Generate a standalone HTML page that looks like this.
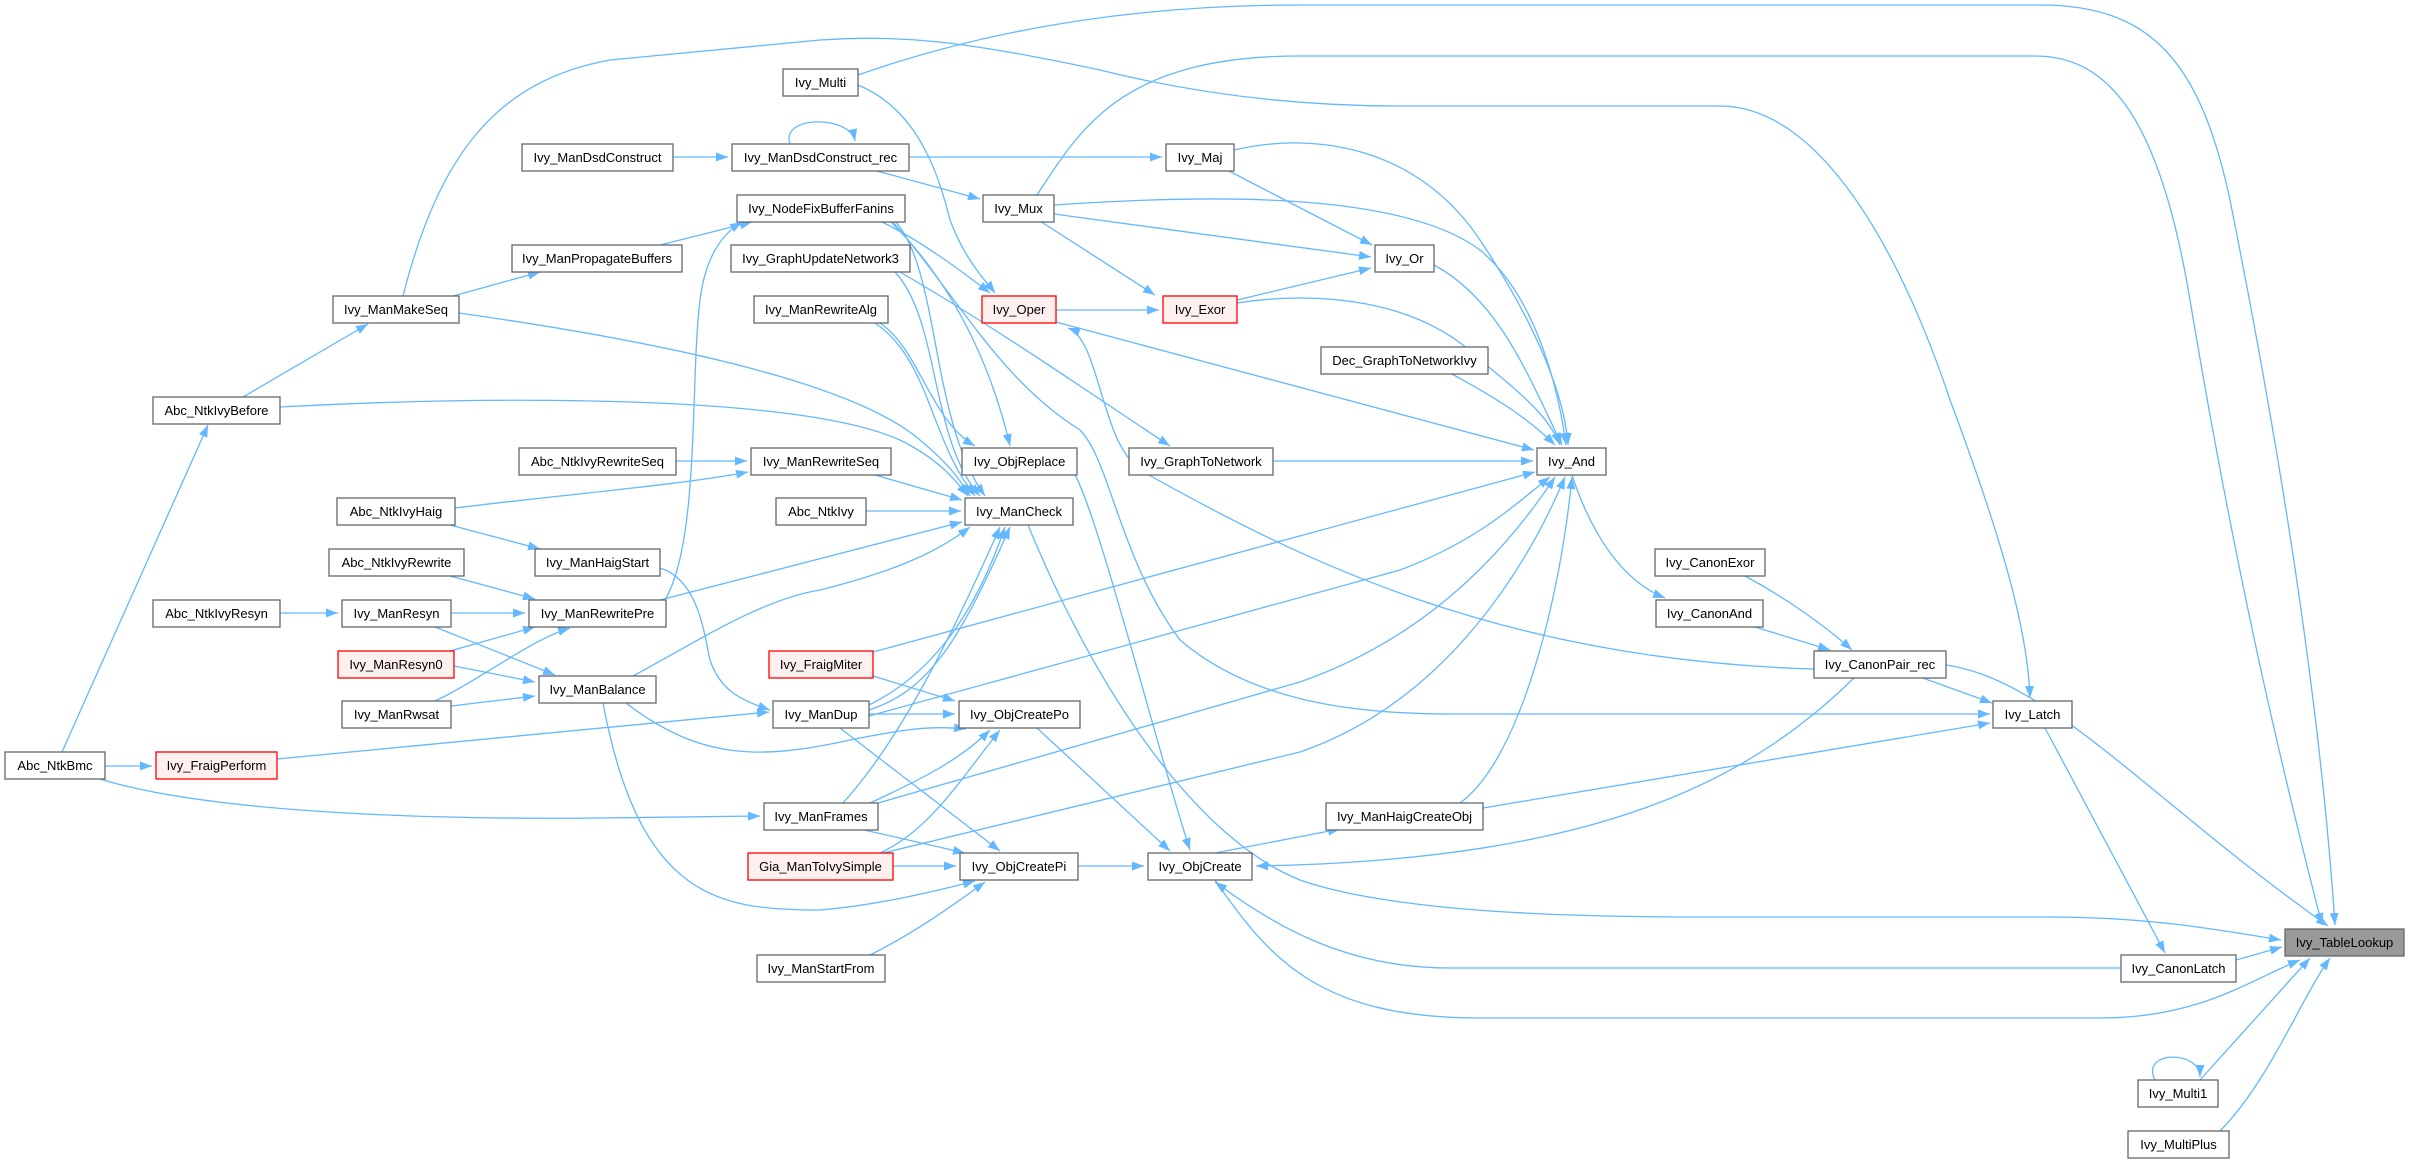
<!DOCTYPE html>
<html><head><meta charset="utf-8"><style>
html,body{margin:0;padding:0;background:#fff;}
svg{display:block;}
text{font-family:"Liberation Sans",Arial,sans-serif;font-size:13px;fill:#000;text-anchor:middle;}
.e{fill:none;stroke:#63b8ff;stroke-width:1.3;marker-end:url(#a);}
.n{fill:#fff;stroke:#666;stroke-width:1.3;}
.r{fill:#fff0f0;stroke:#ff0000;stroke-width:1.3;}
.g{fill:#999;stroke:#666;stroke-width:1.3;}
</style></head><body>
<svg width="2409" height="1163" viewBox="0 0 2409 1163" xmlns="http://www.w3.org/2000/svg">
<defs><marker id="a" markerUnits="userSpaceOnUse" markerWidth="13" markerHeight="10" refX="12" refY="4.5" orient="auto"><path d="M0,0 L12,4.5 L0,9 z" fill="#63b8ff"/></marker></defs>
<g>
<path class="e" d="M858,75 C1000,25 1150,5 1300,5 L2040,5 C2150,5 2200,60 2230,200 C2280,450 2320,700 2335,925"/>
<path class="e" d="M1037,195 C1080,130 1120,56 1300,56 L2035,56 C2110,56 2160,120 2190,300 C2240,600 2290,800 2322,925"/>
<path class="e" d="M403,296 C440,150 500,80 610,60 L820,40 C900,35 960,40 1100,70 C1180,90 1280,106 1400,106 L1720,106 C1820,106 1900,250 1950,400 C2010,560 2028,640 2030,698"/>
<path class="e" d="M673,157 L728,157"/>
<path class="e" d="M790,144 C780,115 850,115 855,141"/>
<path class="e" d="M909,157 L1162,157"/>
<path class="e" d="M877,171 L980,199"/>
<path class="e" d="M858,85 C920,110 940,180 950,220 C965,260 985,280 995,293"/>
<path class="e" d="M880,221 C920,240 960,270 990,293"/>
<path class="e" d="M660,245 L752,222"/>
<path class="e" d="M453,296 L540,272"/>
<path class="e" d="M243,397 L368,324"/>
<path class="e" d="M62,752 L208,425"/>
<path class="e" d="M1040,221 L1155,295"/>
<path class="e" d="M1054,214 L1371,257"/>
<path class="e" d="M1054,205 C1200,195 1400,190 1480,250 C1540,300 1560,400 1566,445"/>
<path class="e" d="M1229,171 L1372,245"/>
<path class="e" d="M1234,150 C1320,130 1420,150 1480,240 C1540,330 1565,400 1568,445"/>
<path class="e" d="M1056,310 L1159,310"/>
<path class="e" d="M1237,300 L1371,268"/>
<path class="e" d="M1237,303 C1320,290 1420,300 1480,360 C1530,400 1550,420 1560,445"/>
<path class="e" d="M1434,265 C1500,300 1530,380 1562,445"/>
<path class="e" d="M1056,322 L1534,450"/>
<path class="e" d="M1450,373 C1500,400 1530,420 1555,445"/>
<path class="e" d="M1273,461 L1533,461"/>
<path class="e" d="M900,272 C1000,330 1100,400 1170,446"/>
<path class="e" d="M890,221 C950,280 990,360 1010,446"/>
<path class="e" d="M880,323 C920,350 930,420 975,446"/>
<path class="e" d="M875,323 C930,360 930,440 975,496"/>
<path class="e" d="M895,272 C940,320 930,440 980,496"/>
<path class="e" d="M895,221 C940,270 930,420 985,496"/>
<path class="e" d="M459,313 C650,340 850,380 920,440 C950,465 960,480 970,496"/>
<path class="e" d="M280,407 C500,395 800,395 900,440 C940,460 955,480 968,496"/>
<path class="e" d="M676,461 L747,461"/>
<path class="e" d="M875,475 L962,500"/>
<path class="e" d="M455,508 C560,495 680,485 748,472"/>
<path class="e" d="M450,525 L540,549"/>
<path class="e" d="M866,511 L961,511"/>
<path class="e" d="M450,576 L535,599"/>
<path class="e" d="M660,600 L962,522"/>
<path class="e" d="M665,600 C700,540 690,380 700,300 C705,260 720,235 742,222"/>
<path class="e" d="M660,568 C700,580 705,640 710,660 C720,690 740,700 770,710"/>
<path class="e" d="M280,613 L338,613"/>
<path class="e" d="M451,613 L525,613"/>
<path class="e" d="M435,627 L555,675"/>
<path class="e" d="M450,651 L535,627"/>
<path class="e" d="M454,666 L535,682"/>
<path class="e" d="M435,701 C480,680 530,640 570,628"/>
<path class="e" d="M451,706 L535,696"/>
<path class="e" d="M633,676 C700,640 760,600 820,590 C900,570 940,550 970,527"/>
<path class="e" d="M626,703 C700,760 760,760 850,740 C900,730 930,725 966,729"/>
<path class="e" d="M603,703 C640,900 720,910 820,910 C880,905 940,890 975,881"/>
<path class="e" d="M873,652 L1535,472"/>
<path class="e" d="M873,676 L955,701"/>
<path class="e" d="M869,714 L955,714"/>
<path class="e" d="M840,728 L1000,851"/>
<path class="e" d="M869,705 C920,680 970,630 1005,527"/>
<path class="e" d="M869,710 C930,690 960,640 1010,527"/>
<path class="e" d="M869,716 L1400,570 C1480,540 1520,500 1550,477"/>
<path class="e" d="M277,759 L769,712"/>
<path class="e" d="M105,766 L152,766"/>
<path class="e" d="M100,779 C200,810 400,820 600,818 L760,816"/>
<path class="e" d="M843,803 C900,740 950,640 1000,527"/>
<path class="e" d="M870,803 C920,780 960,760 990,730"/>
<path class="e" d="M860,829 L965,853"/>
<path class="e" d="M878,803 L1300,682 C1420,640 1500,560 1555,477"/>
<path class="e" d="M883,853 L1300,752 C1450,700 1530,560 1565,477"/>
<path class="e" d="M880,853 C930,830 960,780 1000,730"/>
<path class="e" d="M893,866 L956,866"/>
<path class="e" d="M870,955 C920,930 960,900 985,882"/>
<path class="e" d="M1078,866 L1144,866"/>
<path class="e" d="M1037,728 L1170,851"/>
<path class="e" d="M1075,475 C1100,520 1160,760 1190,850"/>
<path class="e" d="M1028,525 C1100,700 1200,840 1300,880 C1400,915 1600,917 1700,917 L2050,917 C2150,917 2220,930 2281,940"/>
<path class="e" d="M1215,853 L1340,829"/>
<path class="e" d="M1460,803 C1520,760 1560,600 1572,477"/>
<path class="e" d="M1483,808 L1990,723"/>
<path class="e" d="M1855,677 C1750,780 1600,860 1256,866"/>
<path class="e" d="M1920,677 L1992,703"/>
<path class="e" d="M1814,669 C1500,660 1300,560 1140,470 C1100,440 1100,340 1068,328"/>
<path class="e" d="M1946,665 C2050,680 2150,800 2328,926"/>
<path class="e" d="M1572,475 C1590,530 1620,580 1665,598"/>
<path class="e" d="M1755,627 L1830,650"/>
<path class="e" d="M1745,576 C1790,600 1830,630 1852,650"/>
<path class="e" d="M893,222 C960,300 1000,380 1080,430 C1110,460 1120,560 1180,640 C1250,700 1350,714 1450,714 L1990,714"/>
<path class="e" d="M2045,728 L2165,953"/>
<path class="e" d="M2236,960 L2282,947"/>
<path class="e" d="M2121,968 L1450,968 C1350,968 1280,930 1215,882"/>
<path class="e" d="M1215,880 C1270,960 1320,1018 1480,1018 L2100,1018 C2200,1018 2250,980 2300,960"/>
<path class="e" d="M2155,1080 C2140,1050 2200,1050 2200,1077"/>
<path class="e" d="M2200,1080 L2310,958"/>
<path class="e" d="M2220,1131 C2270,1080 2300,1000 2330,958"/>
</g>
<g>
<rect class="n" x="783" y="69" width="75" height="27"/><text x="820.5" y="87">Ivy_Multi</text>
<rect class="n" x="522" y="144" width="151" height="27"/><text x="597.5" y="162">Ivy_ManDsdConstruct</text>
<rect class="n" x="732" y="144" width="177" height="27"/><text x="820.5" y="162">Ivy_ManDsdConstruct_rec</text>
<rect class="n" x="1166" y="144" width="68" height="27"/><text x="1200" y="162">Ivy_Maj</text>
<rect class="n" x="737" y="195" width="168" height="27"/><text x="821" y="213">Ivy_NodeFixBufferFanins</text>
<rect class="n" x="983" y="195" width="71" height="27"/><text x="1018.5" y="213">Ivy_Mux</text>
<rect class="n" x="512" y="245" width="170" height="27"/><text x="597" y="263">Ivy_ManPropagateBuffers</text>
<rect class="n" x="731" y="245" width="179" height="27"/><text x="820.5" y="263">Ivy_GraphUpdateNetwork3</text>
<rect class="n" x="1375" y="245" width="59" height="27"/><text x="1404.5" y="263">Ivy_Or</text>
<rect class="n" x="333" y="296" width="126" height="27"/><text x="396" y="314">Ivy_ManMakeSeq</text>
<rect class="n" x="754" y="296" width="134" height="27"/><text x="821" y="314">Ivy_ManRewriteAlg</text>
<rect class="r" x="982" y="296" width="74" height="27"/><text x="1019" y="314">Ivy_Oper</text>
<rect class="r" x="1163" y="296" width="74" height="27"/><text x="1200" y="314">Ivy_Exor</text>
<rect class="n" x="1321" y="347" width="167" height="27"/><text x="1404.5" y="365">Dec_GraphToNetworkIvy</text>
<rect class="n" x="153" y="397" width="127" height="27"/><text x="216.5" y="415">Abc_NtkIvyBefore</text>
<rect class="n" x="519" y="448" width="157" height="27"/><text x="597.5" y="466">Abc_NtkIvyRewriteSeq</text>
<rect class="n" x="751" y="448" width="140" height="27"/><text x="821" y="466">Ivy_ManRewriteSeq</text>
<rect class="n" x="962" y="448" width="115" height="27"/><text x="1019.5" y="466">Ivy_ObjReplace</text>
<rect class="n" x="1129" y="448" width="144" height="27"/><text x="1201" y="466">Ivy_GraphToNetwork</text>
<rect class="n" x="1537" y="448" width="69" height="27"/><text x="1571.5" y="466">Ivy_And</text>
<rect class="n" x="337" y="498" width="118" height="27"/><text x="396" y="516">Abc_NtkIvyHaig</text>
<rect class="n" x="776" y="498" width="90" height="27"/><text x="821" y="516">Abc_NtkIvy</text>
<rect class="n" x="965" y="498" width="108" height="27"/><text x="1019" y="516">Ivy_ManCheck</text>
<rect class="n" x="329" y="549" width="135" height="27"/><text x="396.5" y="567">Abc_NtkIvyRewrite</text>
<rect class="n" x="535" y="549" width="125" height="27"/><text x="597.5" y="567">Ivy_ManHaigStart</text>
<rect class="n" x="1655" y="549" width="110" height="27"/><text x="1710" y="567">Ivy_CanonExor</text>
<rect class="n" x="153" y="600" width="127" height="27"/><text x="216.5" y="618">Abc_NtkIvyResyn</text>
<rect class="n" x="342" y="600" width="109" height="27"/><text x="396.5" y="618">Ivy_ManResyn</text>
<rect class="n" x="529" y="600" width="137" height="27"/><text x="597.5" y="618">Ivy_ManRewritePre</text>
<rect class="n" x="1656" y="600" width="107" height="27"/><text x="1709.5" y="618">Ivy_CanonAnd</text>
<rect class="r" x="338" y="651" width="116" height="27"/><text x="396" y="669">Ivy_ManResyn0</text>
<rect class="r" x="769" y="651" width="104" height="27"/><text x="821" y="669">Ivy_FraigMiter</text>
<rect class="n" x="1814" y="651" width="132" height="27"/><text x="1880" y="669">Ivy_CanonPair_rec</text>
<rect class="n" x="539" y="676" width="117" height="27"/><text x="597.5" y="694">Ivy_ManBalance</text>
<rect class="n" x="342" y="701" width="109" height="27"/><text x="396.5" y="719">Ivy_ManRwsat</text>
<rect class="n" x="773" y="701" width="96" height="27"/><text x="821" y="719">Ivy_ManDup</text>
<rect class="n" x="959" y="701" width="121" height="27"/><text x="1019.5" y="719">Ivy_ObjCreatePo</text>
<rect class="n" x="1993" y="701" width="79" height="27"/><text x="2032.5" y="719">Ivy_Latch</text>
<rect class="n" x="5" y="752" width="100" height="27"/><text x="55" y="770">Abc_NtkBmc</text>
<rect class="r" x="156" y="752" width="121" height="27"/><text x="216.5" y="770">Ivy_FraigPerform</text>
<rect class="n" x="764" y="803" width="114" height="27"/><text x="821" y="821">Ivy_ManFrames</text>
<rect class="n" x="1326" y="803" width="157" height="27"/><text x="1404.5" y="821">Ivy_ManHaigCreateObj</text>
<rect class="r" x="748" y="853" width="145" height="27"/><text x="820.5" y="871">Gia_ManToIvySimple</text>
<rect class="n" x="960" y="853" width="118" height="27"/><text x="1019" y="871">Ivy_ObjCreatePi</text>
<rect class="n" x="1148" y="853" width="104" height="27"/><text x="1200" y="871">Ivy_ObjCreate</text>
<rect class="g" x="2285" y="929" width="119" height="27"/><text x="2344.5" y="947">Ivy_TableLookup</text>
<rect class="n" x="757" y="955" width="128" height="27"/><text x="821" y="973">Ivy_ManStartFrom</text>
<rect class="n" x="2121" y="955" width="115" height="27"/><text x="2178.5" y="973">Ivy_CanonLatch</text>
<rect class="n" x="2138" y="1080" width="80" height="27"/><text x="2178" y="1098">Ivy_Multi1</text>
<rect class="n" x="2128" y="1131" width="101" height="27"/><text x="2178.5" y="1149">Ivy_MultiPlus</text>
</g>
</svg>
</body></html>
